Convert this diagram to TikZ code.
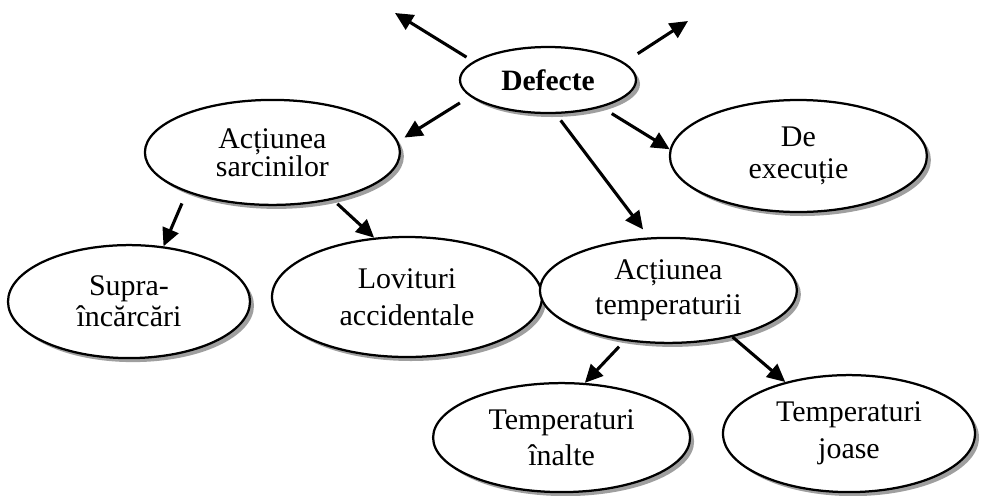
\documentclass[tikz,border=0pt]{standalone}
\usepackage{fontspec}
\setmainfont{Liberation Serif}
\usetikzlibrary{shapes.geometric,shadows,arrows.meta}

\begin{document}
\begin{tikzpicture}[
  blob/.style={ellipse, draw, line width=1.6pt, fill=white, inner sep=0pt, align=center,
    font=\fontsize{21.3}{24}\selectfont,
    drop shadow={shadow xshift=0.1cm, shadow yshift=-0.1cm, fill=gray!75, opacity=1}},
  arr/.style={line width=2.2pt, -{Triangle[length=0.45cm,width=0.42cm]}}
]
  \useasboundingbox (0,0) rectangle (24.55,-12.375);
  % \draw[step=1cm,gray,very thin] (0,0) grid (24.55,-12.375);
  \node[blob, minimum width=4.4cm, minimum height=1.65cm, font=\fontsize{21}{24}\selectfont\bfseries] (defecte) at (13.7,-2.0) {Defecte};
  \node[blob, minimum width=6.375cm, minimum height=2.625cm, font=\fontsize{21.3}{20}\selectfont] (sarcini) at (6.81,-3.81) {Acțiunea\\sarcinilor};
  \node[blob, minimum width=6.425cm, minimum height=2.8cm, font=\fontsize{21.3}{22.8}\selectfont] (executie) at (19.96,-3.9) {De\\execuție};
  \node[blob, minimum width=6.05cm, minimum height=2.825cm, font=\fontsize{21.3}{22}\selectfont] (supra) at (3.225,-7.54) {Supra-\\încărcări};
  \node[blob, minimum width=6.75cm, minimum height=3.0cm, font=\fontsize{21.3}{26.3}\selectfont] (lovituri) at (10.175,-7.425) {Lovituri\\accidentale};
  \node[blob, minimum width=6.425cm, minimum height=2.625cm, font=\fontsize{21.3}{24.9}\selectfont] (temper) at (16.71,-7.26) {Acțiunea\\temperaturii};
  \node[blob, minimum width=6.425cm, minimum height=2.725cm, font=\fontsize{21.3}{25.6}\selectfont] (inalte) at (14.04,-10.94) {Temperaturi\\înalte};
  \node[blob, minimum width=6.3cm, minimum height=2.925cm, font=\fontsize{21.3}{26.3}\selectfont] (joase) at (21.225,-10.84) {Temperaturi\\joase};
  \coordinate (ul) at (9.875,-0.325);
  \coordinate (ur) at (17.2,-0.525);
  \draw[arr, shorten <=0.2cm] (defecte.166) -- (ul);
  \draw[arr, shorten <=0.4cm] (defecte.13) -- (ur);
  \draw[arr, shorten <=0.3cm, shorten >=0.18cm] (defecte.192) -- (sarcini.5);
  \draw[arr, shorten <=0.3cm] (defecte.-27) -- (executie.177);
  \draw[arr, shorten <=0.2cm, shorten >=0.25cm] (defecte.-77) -- (temper.110);
  \draw[arr, shorten <=0.3cm] (sarcini.205) -- (supra.58);
  \draw[arr, shorten <=0.15cm] (sarcini.-38) -- (lovituri.119);
  \draw[arr, shorten <=0.2cm] (temper.229) -- (inalte.67);
  \draw[arr] (temper.-36) -- (joase.141);
\end{tikzpicture}
\end{document}
